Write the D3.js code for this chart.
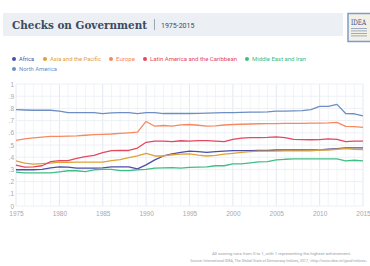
<!DOCTYPE html>
<html>
<head>
<meta charset="utf-8">
<script src="https://cdn.jsdelivr.net/npm/d3@7"></script>
<style>
  body { margin: 0; background: #fff; }
  svg { display: block; font-family: Roboto, "Open Sans", sans-serif; }
</style>
</head>
<body>
<svg id="chart" width="370" height="266"></svg>
<script>
// data
const years = d3.range(1975, 2016)
const yTicks = [0, 0.1, 0.2, 0.3, 0.4, 0.5, 0.6, 0.7, 0.8, 0.9, 1]
const yTickLabels = ['0', '.1', '.2', '.3', '.4', '.5', '.6', '.7', '.8', '.9', '1']
const xTicks = [1975, 1980, 1985, 1990, 1995, 2000, 2005, 2010, 2015]

const africa = [0.297, 0.297, 0.297, 0.300, 0.313, 0.320, 0.318, 0.310, 0.310, 0.310, 0.312, 0.320, 0.320, 0.320, 0.305, 0.337, 0.378, 0.410, 0.427, 0.440,
  0.449, 0.445, 0.440, 0.445, 0.449, 0.454, 0.454, 0.454, 0.455, 0.455, 0.459, 0.459, 0.459, 0.459, 0.460, 0.460, 0.465, 0.470, 0.476, 0.476, 0.476]
const asiaPacific = [0.370, 0.351, 0.343, 0.348, 0.352, 0.360, 0.358, 0.360, 0.360, 0.360, 0.360, 0.372, 0.380, 0.397, 0.410, 0.432, 0.410, 0.410, 0.420, 0.425,
  0.427, 0.417, 0.410, 0.415, 0.425, 0.432, 0.440, 0.445, 0.450, 0.450, 0.450, 0.452, 0.452, 0.452, 0.452, 0.459, 0.459, 0.465, 0.470, 0.465, 0.462]
const europe = [0.538, 0.550, 0.558, 0.565, 0.570, 0.570, 0.572, 0.575, 0.580, 0.585, 0.587, 0.590, 0.595, 0.600, 0.605, 0.693, 0.654, 0.660, 0.655, 0.665,
  0.668, 0.662, 0.654, 0.657, 0.664, 0.668, 0.670, 0.672, 0.674, 0.675, 0.676, 0.677, 0.678, 0.678, 0.679, 0.680, 0.681, 0.685, 0.652, 0.650, 0.644]
const latinAmerica = [0.335, 0.319, 0.320, 0.330, 0.364, 0.372, 0.372, 0.390, 0.405, 0.415, 0.437, 0.454, 0.455, 0.455, 0.475, 0.522, 0.532, 0.532, 0.527, 0.535,
  0.532, 0.536, 0.536, 0.532, 0.527, 0.546, 0.557, 0.560, 0.560, 0.562, 0.567, 0.560, 0.546, 0.544, 0.543, 0.544, 0.550, 0.546, 0.527, 0.532, 0.532]
const middleEast = [0.278, 0.272, 0.272, 0.272, 0.272, 0.280, 0.289, 0.289, 0.282, 0.297, 0.300, 0.300, 0.290, 0.290, 0.297, 0.300, 0.310, 0.312, 0.315, 0.310,
  0.316, 0.318, 0.320, 0.330, 0.330, 0.345, 0.345, 0.353, 0.362, 0.364, 0.378, 0.383, 0.386, 0.386, 0.386, 0.386, 0.386, 0.386, 0.370, 0.375, 0.370]
const northAmerica = [0.790, 0.787, 0.785, 0.785, 0.785, 0.778, 0.766, 0.766, 0.766, 0.766, 0.758, 0.764, 0.766, 0.766, 0.758, 0.766, 0.766, 0.758, 0.758, 0.758,
  0.758, 0.760, 0.762, 0.764, 0.765, 0.766, 0.768, 0.770, 0.770, 0.772, 0.777, 0.778, 0.780, 0.781, 0.790, 0.817, 0.817, 0.833, 0.758, 0.756, 0.738]

const seriesNames = ['Africa', 'Asia and the Pacific', 'Europe', 'Latin America and the Caribbean', 'Middle East and Iran', 'North America']
const seriesValues = [africa, asiaPacific, europe, latinAmerica, middleEast, northAmerica]
const seriesColors = ['#4b4fa6', '#dfa136', '#f6895f', '#e5475f', '#41bd86', '#6e8ec1']

const svg = d3.select('#chart')

// title bar
svg.append('rect')
  .attr('x', 3).attr('y', 13).attr('width', 340).attr('height', 23)
  .style('fill', '#eceff3')
svg.append('text')
  .attr('x', 12).attr('y', 29)
  .attr('textLength', 135)
  .attr('lengthAdjust', 'spacingAndGlyphs')
  .style('font-family', '"DejaVu Serif", "Liberation Serif", serif')
  .style('font-weight', 'bold')
  .style('font-size', '11px')
  .style('fill', '#3b4a62')
  .text('Checks on Government')
svg.append('rect')
  .attr('x', 154).attr('y', 19).attr('width', 0.8).attr('height', 11)
  .style('fill', '#8a94a6')
svg.append('text')
  .attr('x', 161).attr('y', 28)
  .style('font-size', '7px')
  .style('fill', '#3b4a62')
  .text('1975-2015')

// logo box
svg.append('rect')
  .attr('x', 348).attr('y', 13.5).attr('width', 24).attr('height', 28)
  .style('fill', '#f3f1e6').style('stroke', '#7f9cc6').style('stroke-width', 1.5)
svg.append('text')
  .attr('x', 351).attr('y', 25)
  .attr('textLength', 15)
  .attr('lengthAdjust', 'spacingAndGlyphs')
  .style('font-family', '"DejaVu Serif", serif')
  .style('font-size', '7.5px')
  .style('fill', '#35508a')
  .text('IDEA')
for (let i = 0; i < 4; i++) {
  svg.append('rect')
    .attr('x', 351).attr('y', 28 + i * 2.5).attr('width', 16).attr('height', 0.8)
    .style('fill', '#8a9ab8')
}

// legend
const legendPos = [[14, 59], [45, 59], [111, 59], [145, 59], [247, 59], [14, 69]]
const legendWidths = [15, 51, 19, 87, 54, 38]
seriesNames.forEach((name, i) => {
  const g = svg.append('g').attr('transform', `translate(${legendPos[i][0]},${legendPos[i][1]})`)
  g.append('circle').attr('r', 2).style('fill', seriesColors[i])
  g.append('text')
    .attr('x', 5).attr('y', 2.2)
    .attr('textLength', legendWidths[i])
    .attr('lengthAdjust', 'spacingAndGlyphs')
    .style('font-size', '6.2px')
    .style('fill', seriesColors[i])
    .text(name)
})

// scales
const x = d3.scaleLinear().domain([1975, 2015]).range([16, 363])
const y = d3.scaleLinear().domain([0, 1]).range([206, 84])

// grid, every year and every tenth
const grid = svg.append('g')
grid.selectAll('.vgrid')
  .data(years)
  .enter().append('line')
  .attr('x1', d => x(d)).attr('x2', d => x(d))
  .attr('y1', y(1)).attr('y2', y(0))
  .style('stroke', d => d % 5 === 0 ? '#e2e8f1' : '#f2f4f8')
  .style('stroke-width', 1)
grid.selectAll('.hgrid')
  .data(yTicks)
  .enter().append('line')
  .attr('x1', x(1975)).attr('x2', x(2015))
  .attr('y1', d => y(d)).attr('y2', d => y(d))
  .style('stroke', '#edf0f5')
  .style('stroke-width', 1)

// y axis labels
const yAxis = d3.axisLeft(y)
  .tickValues(yTicks)
  .tickFormat((d, i) => yTickLabels[i])
  .tickSize(0)
  .tickPadding(2)
svg.append('g')
  .attr('transform', `translate(${x(1975)},0)`)
  .call(yAxis)
  .call(g => g.select('.domain').remove())
  .selectAll('text')
  .style('font-size', '6.5px')
  .style('fill', '#a4a9b3')

// x axis labels
const xAxis = d3.axisBottom(x)
  .tickValues(xTicks)
  .tickFormat(d3.format('d'))
  .tickSize(0)
  .tickPadding(5)
svg.append('g')
  .attr('transform', `translate(0,${y(0)})`)
  .call(xAxis)
  .call(g => g.select('.domain').remove())
  .selectAll('text')
  .style('font-size', '6.5px')
  .style('fill', '#a4a9b3')

// lines
const line = d3.line()
  .x((d, i) => x(years[i]))
  .y(d => y(d))
seriesValues.forEach((vals, i) => {
  svg.append('path')
    .attr('d', line(vals))
    .style('fill', 'none')
    .style('stroke', seriesColors[i])
    .style('stroke-width', 1.3)
    .style('stroke-linejoin', 'round')
})

// footer
svg.append('text')
  .attr('x', 351).attr('y', 255)
  .attr('text-anchor', 'end')
  .style('font-size', '4.3px')
  .style('fill', '#9a9ea6')
  .text('All scoring runs from 0 to 1, with 1 representing the highest achievement.')
svg.append('text')
  .attr('x', 367).attr('y', 261.5)
  .attr('text-anchor', 'end')
  .style('font-size', '3.7px')
  .style('fill', '#9a9ea6')
  .text('Source: International IDEA, The Global State of Democracy Indices, 2017, <http://www.idea.int/gsod-indices>')
</script>
</body>
</html>
